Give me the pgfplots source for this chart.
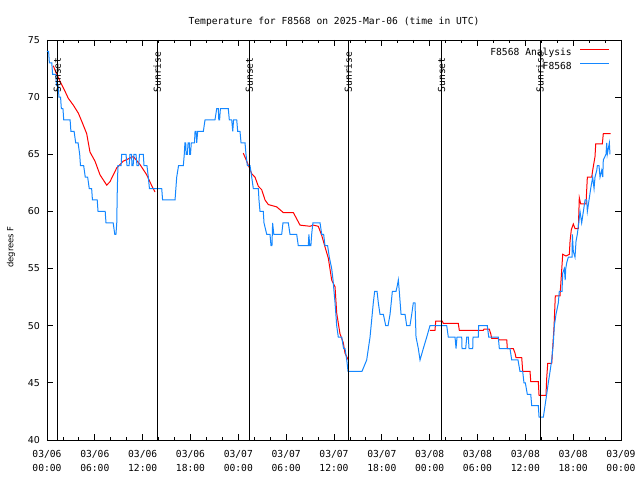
\documentclass[border=0pt]{standalone}
\usepackage{fontspec}
\setmainfont{DejaVu Sans Mono}
\newfontfamily\sansf{DejaVu Sans}
\usepackage{pgfplots}
\pgfplotsset{compat=1.18}
\definecolor{redline}{RGB}{255,0,0}
\definecolor{blueline}{RGB}{20,135,255}
\newcommand{\gfont}{\fontsize{9.7}{13.3}\selectfont}
\begin{document}
\begin{tikzpicture}
\path[use as bounding box] (-47bp,-40bp) rectangle (593bp,440bp);
\begin{axis}[
  at={(0,0)}, anchor=south west,
  scale only axis, width=574bp, height=400bp,
  xmin=0, xmax=72, ymin=40, ymax=75,
  xtick={0,6,...,72},
  xticklabels={{03/06\\00:00},{03/06\\06:00},{03/06\\12:00},{03/06\\18:00},{03/07\\00:00},{03/07\\06:00},{03/07\\12:00},{03/07\\18:00},{03/08\\00:00},{03/08\\06:00},{03/08\\12:00},{03/08\\18:00},{03/09\\00:00}},
  minor x tick num=2,
  ytick={40,45,...,75},
  tick pos=both, tick align=inside,
  major tick length=6bp, minor tick length=3bp,
  axis line style={line width=0.9bp},
  every tick/.style={black, line width=0.8bp},
  xticklabel style={align=center, font=\gfont, inner sep=0pt, anchor=north, yshift=-10.5bp},
  yticklabel style={font=\sansf\fontsize{9.5}{11}\selectfont, inner sep=0pt, anchor=east, xshift=-7bp},
  /pgf/number format/assume math mode=true,
  unbounded coords=jump,
  legend cell align=right,
  legend plot pos=right,
  legend image code/.code={\draw[#1] (0bp,3.5bp) -- (29bp,3.5bp);},
  legend style={at={(rel axis cs:1,1)}, anchor=north east, xshift=-11bp, yshift=-8bp,
    draw=none, fill=none, inner sep=0pt, font=\gfont, row sep=5bp, column sep=8bp,
    nodes={inner sep=0pt, text height=7bp, text depth=2bp}},
]
\addplot[redline, line width=1bp] coordinates {
(0.79,72.75)(1.1,72.2)(1.63,71.4)(2.2,70.6)(2.67,69.9)(3.3,69.3)(3.93,68.6)(4.35,67.9)(4.98,66.8)(5.39,65.2)(6.02,64.4)(6.65,63.2)(7.49,62.3)(7.9,62.6)(8.74,63.8)(9.57,64.4)(10.83,64.8)(11.67,64.1)(12.51,63.2)(13.17,62.2)(13.55,61.7)(14,nan)
(24.62,65.1)(25.05,64.4)(25.68,63.3)(26.09,63.0)(26.51,62.2)(26.93,61.9)(27.35,61.0)(27.76,60.6)(28.81,60.4)(29.64,59.9)(30.9,59.9)(31.74,58.8)(32.99,58.7)(33.41,58.8)(34.03,58.7)(34.46,57.9)(34.87,56.9)(35.29,55.9)(35.71,54.0)(36.13,53.4)(36.34,51.1)(36.75,49.3)(37.17,48.5)(37.38,47.6)(37.8,47.0)(40,nan)
(48.04,49.6)(48.67,49.6)(48.76,50.4)(49.59,50.4)(49.71,50.2)(51.59,50.2)(51.72,49.6)(54.73,49.6)(54.82,49.7)(55.48,49.7)(55.66,49.3)(55.78,48.9)(56.61,48.9)(56.7,48.75)(57.67,48.75)(57.74,48.0)(58.49,48.0)(58.71,47.6)(58.83,47.2)(59.55,47.2)(59.67,46.0)(60.59,46.0)(60.68,45.1)(61.63,45.1)(61.72,43.9)(62.59,43.9)(62.68,45.4)(62.81,46.7)(63.31,46.7)(63.6,49.9)(63.76,52.6)(64.35,52.6)(64.69,56.25)(65.11,56.1)(65.52,56.25)(65.61,57.4)(65.77,58.4)(66.02,58.9)(66.23,58.5)(66.65,58.5)(66.77,61.2)(66.95,60.65)(67.61,60.65)(67.78,63.0)(68.33,63.0)(68.45,63.6)(68.74,64.8)(68.83,65.9)(69.66,65.9)(69.78,66.8)(70.71,66.8)
};
\addlegendentry{F8568 Analysis}
\addplot[blueline, line width=1bp] coordinates {
(0,74)(0.2,74)(0.3,73)(0.6,73)(0.7,72)(1.1,72)(1.2,71)(1.4,71)(1.5,70)(1.7,70)(1.8,69)(2.0,69)(2.1,68)(2.9,68)(3.0,67)(3.4,67)(3.6,66)(3.9,66)(4.1,65)(4.2,64)(4.6,64)(4.8,63)(5.1,63)(5.3,62)(5.6,62)(5.7,61)(6.3,61)(6.4,60)(7.3,60)(7.4,59)(8.3,59)(8.5,58)(8.65,58)(8.75,59)(8.82,62)(8.9,64)(9.3,64)(9.37,65)(9.91,65)(10.04,64)(10.3,64)(10.41,65)(10.6,65)(10.66,64)(10.8,64)(10.91,65)(11.16,65)(11.29,64)(11.5,64)(11.6,65)(12.08,65)(12.17,64)(12.54,64)(12.71,63)(12.85,62)(14.39,62)(14.5,61)(16.06,61)(16.27,63)(16.5,64)(17.1,64)(17.22,65)(17.3,66)(17.4,66)(17.45,65)(17.6,65)(17.7,66)(17.85,66)(17.9,65)(18.0,65)(18.1,66)(18.5,66)(18.57,67)(18.7,67)(18.78,66)(18.9,67)(19.61,67)(19.82,68)(21.07,68)(21.29,69)(21.49,69)(21.55,68)(21.65,68)(21.75,69)(22.74,69)(22.87,68)(23.17,68)(23.3,67)(23.4,68)(23.8,68)(23.92,67)(24.21,67)(24.34,66)(24.84,66)(24.96,65)(25.13,64)(25.47,64)(25.68,63)(25.88,62)(26.51,62)(26.59,61)(26.72,60)(27.13,60)(27.22,59)(27.56,58)(27.97,58)(28.1,57)(28.22,57)(28.3,59)(28.45,58)(29.44,58)(29.6,59)(30.27,59)(30.48,58)(31.32,58)(31.52,57)(32.78,57)(32.85,58)(32.95,57)(33.1,57)(33.2,58)(33.35,59)(34.25,59)(34.46,58)(34.7,58)(34.87,57)(35.2,57)(35.41,56)(35.71,55)(35.88,54)(36.0,53)(36.13,52)(36.34,50)(36.54,49)(36.97,49)(37.2,48)(37.38,48)(37.6,47)(37.76,46)(39.51,46)(40.1,47)(40.52,49)(40.93,52)(41.1,53)(41.4,53)(41.56,52)(41.77,51)(42.19,51)(42.49,50)(42.78,50)(43.03,51)(43.32,53)(43.78,53)(43.94,53.5)(44.07,54)(44.19,53)(44.41,51)(44.91,51)(45.12,50)(45.53,50)(45.75,51)(45.95,52)(46.16,52)(46.29,49)(46.58,48)(46.79,47)(47.2,48)(47.63,49)(48.04,50)(50.14,50)(50.34,49)(51.18,49)(51.31,48)(51.43,49)(52.02,49)(52.06,48)(52.52,48)(52.65,49)(52.85,49)(52.94,48)(53.4,48)(53.44,49)(54.1,49)(54.15,50)(55.23,50)(55.41,49)(56.61,49)(56.74,48)(58.08,48)(58.29,47)(59.08,47)(59.33,46)(59.67,46)(59.83,45)(60.0,45)(60.25,44)(60.68,44)(60.8,43)(61.63,43)(61.72,42)(62.26,42)(62.47,43)(62.68,44)(62.88,45)(63.1,46)(63.31,47)(63.51,48.5)(63.64,50)(63.85,51)(64.14,52)(64.26,53)(64.6,53)(64.69,54.6)(64.89,55)(65.0,54)(65.07,55)(65.19,55.5)(65.39,56)(65.86,56)(65.9,58)(66.02,56.5)(66.23,56)(66.36,57.4)(66.52,58)(66.7,59)(66.86,60)(67.07,59)(67.28,60)(67.49,61)(67.7,61)(67.78,60)(67.99,61)(68.2,62)(68.45,63)(68.62,62)(68.74,63)(68.96,63.6)(69.03,64)(69.24,64)(69.37,63)(69.58,63.6)(69.71,63)(69.78,64.5)(70.12,65)(70.21,66)(70.28,65)(70.41,65.5)(70.54,66)(70.62,65)
};
\addlegendentry{F8568}
\addplot[black, line width=0.9bp, forget plot] coordinates {(1.29,40)(1.29,75)};
\addplot[black, line width=0.9bp, forget plot] coordinates {(13.84,40)(13.84,75)};
\addplot[black, line width=0.9bp, forget plot] coordinates {(25.38,40)(25.38,75)};
\addplot[black, line width=0.9bp, forget plot] coordinates {(37.79,40)(37.79,75)};
\addplot[black, line width=0.9bp, forget plot] coordinates {(49.51,40)(49.51,75)};
\addplot[black, line width=0.9bp, forget plot] coordinates {(61.84,40)(61.84,75)};
\node[rotate=90, anchor=west, font=\gfont, inner sep=0pt] at (axis cs:1.29,70.4) {Sunset};
\node[rotate=90, anchor=west, font=\gfont, inner sep=0pt] at (axis cs:13.84,70.4) {Sunrise};
\node[rotate=90, anchor=west, font=\gfont, inner sep=0pt] at (axis cs:25.38,70.4) {Sunset};
\node[rotate=90, anchor=west, font=\gfont, inner sep=0pt] at (axis cs:37.79,70.4) {Sunrise};
\node[rotate=90, anchor=west, font=\gfont, inner sep=0pt] at (axis cs:49.51,70.4) {Sunset};
\node[rotate=90, anchor=west, font=\gfont, inner sep=0pt] at (axis cs:61.84,70.4) {Sunrise};
\end{axis}
\node[anchor=base, font=\gfont, inner sep=0pt] at (287bp,415bp) {Temperature for F8568 on 2025-Mar-06 (time in UTC)};
\node[rotate=90, font=\sansf\fontsize{8.5}{10}\selectfont, inner sep=0pt] at (-36bp,193bp) {degrees F};
\end{tikzpicture}
\end{document}
